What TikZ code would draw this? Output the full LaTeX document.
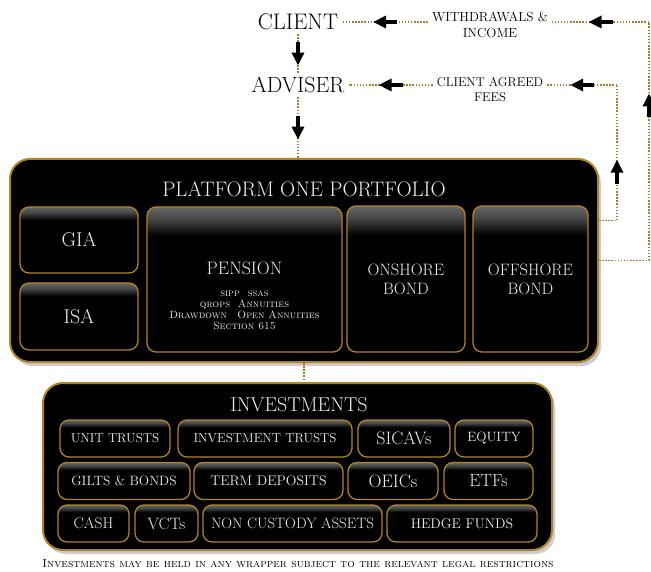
\documentclass[tikz,border=0pt]{standalone}
\usepackage{tikz}
\usetikzlibrary{arrows.meta,decorations.markings,shadows}
\definecolor{gold}{RGB}{176,132,36}
\definecolor{dots}{RGB}{168,124,44}
\definecolor{ivory}{RGB}{236,236,236}
\pgfdeclareverticalshading{gloss}{100bp}{color(0bp)=(black); color(25bp)=(black); color(65bp)=(black); color(71bp)=(black!72); color(75bp)=(black!60); color(100bp)=(black!60)}
\newcommand{\fsz}[2]{\fontsize{#1}{#2}\selectfont}
\newcommand{\flowhead}{\draw[solid,black,line width=4pt,-{Triangle[length=13pt,width=12pt]}] (-12pt,0pt)--(12pt,0pt);}
\newcommand{\assettile}[5]{\node[tile,minimum width=#4pt,minimum height=37pt] (#1) at (#2,#3) {#5};}
\tikzset{
  frame/.style={draw=gold,line width=2pt,fill=black,rounded corners=20pt,
    drop shadow={shadow xshift=3pt,shadow yshift=-4pt,fill=black!40,opacity=0.5}},
  tile/.style={draw=gold,line width=1.3pt,shade,shading=gloss,rounded corners=9pt,
    text=ivory,inner sep=0pt,font=\fsz{13}{16}},
  toptext/.style={text=black,inner sep=4pt},
  flow/.style={draw=dots,line width=1.5pt,dash pattern=on 1.5pt off 1.6pt},
  flowarrow/.style={flow,postaction={decorate,decoration={markings,mark=at position #1 with {\flowhead}}}}
}

\begin{document}
\begin{tikzpicture}[x=1pt,y=-1pt]
\useasboundingbox (0,0) rectangle (651,572);
\node[toptext,font=\fsz{22.5}{26}] (client) at (298,22) {CLIENT};
\node[toptext,font=\fsz{22}{26}] (adviser) at (298,85) {ADVISER};
\node[toptext,align=center,font=\fsz{13.2}{16}] (withdrawals) at (490,24.5) {WITHDRAWALS \&\\INCOME};
\node[toptext,align=center,font=\fsz{12.7}{15}] (fees) at (490,89.5) {CLIENT AGREED\\FEES};

\node[frame,minimum width=588pt,minimum height=203pt] (platform) at (304,260.5) {};
\node[text=ivory,font=\fsz{21}{25}] (pftitle) at (304,189) {PLATFORM ONE PORTFOLIO};
\node[tile,minimum width=118pt,minimum height=66pt,font=\fsz{20}{24}] (gia) at (79,240) {GIA};
\node[tile,minimum width=118pt,minimum height=67pt,font=\fsz{20}{24}] (isa) at (79,316.5) {ISA};
\node[tile,minimum width=195pt,minimum height=145pt] (pension) at (244.5,279.5) {};
\node[text=ivory,font=\fsz{18}{22}] (pentitle) at (244.5,268) {PENSION};
\node[text=ivory,align=center,font=\fsz{10.5}{11}] (pentypes) at (244.5,310) {\textsc{sipp\ \ ssas}\\\textsc{qrops\ \ Annuities}\\\textsc{Drawdown\quad Open Annuities}\\\textsc{Section 615}};
\node[tile,minimum width=118pt,minimum height=146pt,align=center,font=\fsz{16.5}{19}] (onshore) at (406,279) {ONSHORE\\BOND};
\node[tile,minimum width=115pt,minimum height=146pt,align=center,font=\fsz{16.5}{19}] (offshore) at (530.5,279) {OFFSHORE\\BOND};

\node[frame,minimum width=509pt,minimum height=167pt] (investments) at (297.5,466.5) {};
\node[text=ivory,font=\fsz{20}{24}] (invtitle) at (299,405) {INVESTMENTS};
\assettile{unit}{115}{438.5}{110}{UNIT TRUSTS}\assettile{invtrust}{265}{438.5}{174}{INVESTMENT TRUSTS}\assettile{sicav}{404}{438.5}{92}{\fsz{18}{20}SICAVs}\assettile{equity}{494}{438.5}{78}{\fsz{13.5}{16}EQUITY}
\assettile{gilts}{124}{481}{132}{\fsz{13.5}{16}GILTS \& BONDS}\assettile{term}{268.5}{481}{149}{\fsz{14}{17}TERM DEPOSITS}\assettile{oeic}{393}{481}{90}{\fsz{18}{20}OEICs}\assettile{etf}{488.5}{481}{89}{\fsz{17.5}{20}ETFs}
\assettile{cash}{93.5}{523.5}{71}{\fsz{15.5}{18}CASH}\assettile{vct}{166.5}{523.5}{63}{\fsz{16.5}{19}VCTs}\assettile{noncust}{292.5}{523.5}{179}{\fsz{15}{17}NON CUSTODY ASSETS}\assettile{hedge}{462}{523.5}{150}{\fsz{14}{16}HEDGE FUNDS}
\node[font=\fsz{11.7}{13}] (note) at (298,564) {\textsc{Investments may be held in any wrapper subject to the relevant legal restrictions}};

\coordinate (outcorner) at (649,22);
\coordinate (feecorner) at (617,85);
\draw[flowarrow=0.5] (client) -- (adviser);
\draw[flowarrow=0.5] (adviser) -- (adviser |- platform.north);
\draw[flow] (platform.south) -- (platform.south |- investments.north);
\draw[flow] (platform.east) -- (platform.east -| outcorner);
\draw[flowarrow=0.65] (platform.east -| outcorner) -- (outcorner);
\draw[flowarrow=0.5] (outcorner) -- (withdrawals.east |- outcorner);
\draw[flowarrow=0.5] (withdrawals.west |- client) -- (client);
\draw[flow] ([yshift=40pt]platform.east) -- ([yshift=40pt]platform.east -| feecorner);
\draw[flowarrow=0.36] ([yshift=40pt]platform.east -| feecorner) -- (feecorner);
\draw[flowarrow=0.5] (feecorner) -- (fees.east |- feecorner);
\draw[flowarrow=0.5] (fees.west |- adviser) -- (adviser);
\end{tikzpicture}
\end{document}
